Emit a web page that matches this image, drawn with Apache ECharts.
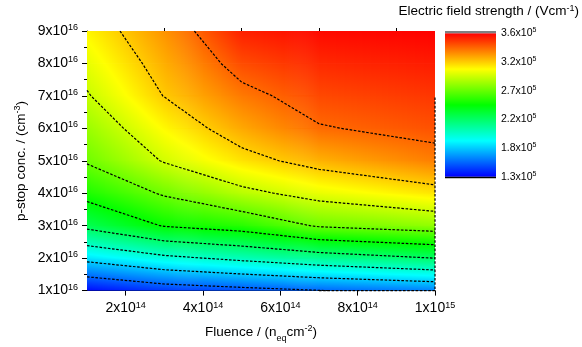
<!DOCTYPE html>
<html><head><meta charset="utf-8">
<script src="https://cdn.jsdelivr.net/npm/echarts@6/dist/echarts.min.js"></script>
<style>html,body{margin:0;padding:0;background:#fff}#c{width:582px;height:347px}</style>
</head><body><div id="c"></div>
<script>
// ---------------- DATA ----------------
// Fluence grid nodes (units of 1e14 n_eq cm^-2)
const fluence = [1, 3, 5, 7, 10];
// p-stop concentration grid nodes (units of 1e16 cm^-3)
const pstop = [1, 2, 3, 4, 5, 6, 7, 8, 9];
// Electric field strength (units of 1e5 V/cm), per fluence column, p-stop from 1e16 to 9e16
const fieldF1  = [1.320, 1.820, 2.276, 2.523, 2.710, 2.810, 2.911, 2.987, 3.060];
const fieldF3  = [1.425, 1.952, 2.471, 2.713, 2.937, 3.051, 3.161, 3.223, 3.285];
const fieldF5  = [1.476, 2.039, 2.546, 2.877, 3.101, 3.237, 3.344, 3.448, 3.550];
const fieldF7  = [1.527, 2.126, 2.711, 2.990, 3.215, 3.377, 3.455, 3.528, 3.600];
const fieldF10 = [1.590, 2.229, 2.789, 3.095, 3.332, 3.435, 3.497, 3.558, 3.620];
// Contour levels (1e5 V/cm)
const contourLevels = [1.532, 1.764, 1.996, 2.228, 2.460, 2.692, 2.924, 3.156, 3.388];
// Dashed boundary contour drawn along the lower/right plot edge in the original (fluence, p-stop)
const boundaryContourX = [7, 10, 10];
const boundaryContourY = [1, 1, 7.0];
// Colour scale range
const scaleMin = 1.30, scaleMax = 3.62;
// Tick labels
const xTickValues = [2, 4, 6, 8, 10];
const xTickText = ['2x10', '4x10', '6x10', '8x10', '1x10'];
const xTickExp = ['14', '14', '14', '14', '15'];
const xMinorValues = [3, 5, 7, 9];
const yTickValues = [1, 2, 3, 4, 5, 6, 7, 8, 9];
const yTickText = ['1x10', '2x10', '3x10', '4x10', '5x10', '6x10', '7x10', '8x10', '9x10'];
const yTickExp = '16';
const cbTickText = ['1.3', '1.8', '2.2', '2.7', '3.2', '3.6'];
const cbTickExp = '5';

// ---------------- HELPERS ----------------
const FONT = '"Liberation Sans", Arial, sans-serif';
const fieldByFluence = [fieldF1, fieldF3, fieldF5, fieldF7, fieldF10];
const val = (i, j) => fieldByFluence[i][j];
const cmap = [[0, [0, 0, 255]], [0.25, [0, 255, 255]], [0.5, [0, 255, 0]], [0.75, [255, 255, 0]], [1, [255, 0, 0]]];
function colorAtF(f) {
  f = Math.max(0, Math.min(1, f));
  for (let k = 0; k < cmap.length - 1; k++) {
    const a = cmap[k], b = cmap[k + 1];
    if (f <= b[0]) {
      const t = (f - a[0]) / (b[0] - a[0]);
      const c = a[1].map((v, m) => Math.round(v + (b[1][m] - v) * t));
      return 'rgb(' + c.join(',') + ')';
    }
  }
  return 'rgb(255,0,0)';
}
const toF = v => (v - scaleMin) / (scaleMax - scaleMin);
function gradStops(v0, v1) {
  const f0 = toF(v0), f1 = toF(v1);
  const stops = [{ offset: 0, color: colorAtF(f0) }];
  const lo = Math.min(f0, f1), hi = Math.max(f0, f1);
  if (hi - lo > 1e-9) {
    cmap.forEach(s => {
      if (s[0] > lo && s[0] < hi) stops.push({ offset: (s[0] - f0) / (f1 - f0), color: colorAtF(s[0]) });
    });
  }
  stops.push({ offset: 1, color: colorAtF(f1) });
  stops.sort((a, b) => a.offset - b.offset);
  return stops;
}

// cells of the data grid
const cells = [];
for (let i = 0; i < fluence.length - 1; i++)
  for (let j = 0; j < pstop.length - 1; j++)
    cells.push([fluence[i], pstop[j], i, j]);

function renderCell(params, api) {
  const i = api.value(2), j = api.value(3);
  const v00 = val(i, j), v10 = val(i + 1, j), v01 = val(i, j + 1), v11 = val(i + 1, j + 1);
  const pBL = api.coord([fluence[i], pstop[j]]);
  const pTR = api.coord([fluence[i + 1], pstop[j + 1]]);
  const xL = pBL[0], xR = pTR[0], yB = pBL[1], yT = pTR[1];
  const n = Math.max(1, Math.ceil(xR - xL));
  const w = (xR - xL) / n;
  const children = [];
  for (let k = 0; k < n; k++) {
    const t = (k + 0.5) / n;
    const vb = v00 + (v10 - v00) * t, vt = v01 + (v11 - v01) * t;
    children.push({
      type: 'rect', silent: true,
      shape: { x: xL + k * w, y: yT - 0.3, width: w + 0.7, height: yB - yT + 0.6 },
      style: { fill: new echarts.graphic.LinearGradient(0, 1, 0, 0, gradStops(vb, vt)) }
    });
  }
  return { type: 'group', children };
}

function contourLines(level) {
  const segs = [];
  for (let i = 0; i < fluence.length - 1; i++) {
    for (let j = 0; j < pstop.length - 1; j++) {
      const c = [[fluence[i], pstop[j], val(i, j)], [fluence[i + 1], pstop[j], val(i + 1, j)],
                 [fluence[i + 1], pstop[j + 1], val(i + 1, j + 1)], [fluence[i], pstop[j + 1], val(i, j + 1)]];
      const keys = ['h' + i + '_' + j, 'v' + (i + 1) + '_' + j, 'h' + i + '_' + (j + 1), 'v' + i + '_' + j];
      const pts = [];
      for (let e = 0; e < 4; e++) {
        const a = c[e], b = c[(e + 1) % 4];
        if ((a[2] < level) !== (b[2] < level)) {
          const t = (level - a[2]) / (b[2] - a[2]);
          pts.push({ k: keys[e], p: [a[0] + (b[0] - a[0]) * t, a[1] + (b[1] - a[1]) * t] });
        }
      }
      for (let q = 0; q + 1 < pts.length; q += 2) segs.push([pts[q], pts[q + 1]]);
    }
  }
  const used = segs.map(() => false);
  const count = {};
  segs.forEach(s => s.forEach(e => { count[e.k] = (count[e.k] || 0) + 1; }));
  const deg = s => Math.min(count[segs[s][0].k], count[segs[s][1].k]);
  const order = segs.map((s, i) => i).sort((a, b) => deg(a) - deg(b));
  function grow(line) {
    for (;;) {
      const last = line[line.length - 1];
      let found = -1;
      for (let s = 0; s < segs.length; s++) {
        if (used[s]) continue;
        if (segs[s][0].k === last.k) { found = s; line.push(segs[s][1]); break; }
        if (segs[s][1].k === last.k) { found = s; line.push(segs[s][0]); break; }
      }
      if (found < 0) break;
      used[found] = true;
    }
  }
  const lines = [];
  for (const s0 of order) {
    if (used[s0]) continue;
    used[s0] = true;
    const line = [segs[s0][0], segs[s0][1]];
    grow(line); line.reverse(); grow(line);
    lines.push(line.map(e => e.p));
  }
  return lines;
}

const dashStyle = { color: '#000', width: 1.2, type: [2.6, 1.6] };
const contourSeries = [];
contourLevels.forEach(L => {
  contourLines(L).forEach(line => {
    contourSeries.push({
      type: 'line', xAxisIndex: 0, yAxisIndex: 0, data: line,
      symbol: 'none', showSymbol: false, silent: true, z: 5, clip: true,
      lineStyle: dashStyle
    });
  });
});
contourSeries.push({
  type: 'line', xAxisIndex: 0, yAxisIndex: 0,
  data: boundaryContourX.map((x, k) => [x, boundaryContourY[k]]),
  symbol: 'none', showSymbol: false, silent: true, z: 5, clip: false,
  lineStyle: dashStyle
});

const tickRich = {
  a: { fontFamily: FONT, fontSize: 14, color: '#000', lineHeight: 16 },
  s: { fontFamily: FONT, fontSize: 9, color: '#000', verticalAlign: 'top' }
};
const cbRich = {
  a: { fontFamily: FONT, fontSize: 10.5, color: '#000', lineHeight: 13 },
  s: { fontFamily: FONT, fontSize: 7, color: '#000', verticalAlign: 'top' }
};
const titleRich = {
  a: { fontFamily: FONT, fontSize: 13.5, color: '#000', lineHeight: 22 },
  sup: { fontFamily: FONT, fontSize: 9, color: '#000', verticalAlign: 'top', height: 16 },
  sub: { fontFamily: FONT, fontSize: 9, color: '#000', verticalAlign: 'bottom' }
};

const chart = echarts.init(document.getElementById('c'), null, { renderer: 'canvas' });
chart.setOption({
  animation: false,
  backgroundColor: '#fff',
  grid: [
    { left: 87, top: 31, right: 147, bottom: 56.4, containLabel: false, outerBoundsMode: 'none' },
    { left: 445, top: 33.3, width: 51, height: 143.4, containLabel: false, outerBoundsMode: 'none' }
  ],
  xAxis: [
    {
      type: 'value', gridIndex: 0, min: 1, max: 10,
      axisLine: { show: true, onZero: false, lineStyle: { color: '#000', width: 1 } },
      axisTick: { show: true, customValues: xTickValues, length: 5, lineStyle: { color: '#000' } },
      axisLabel: {
        customValues: xTickValues, margin: 10,
        formatter: v => { const k = xTickValues.indexOf(v); return k < 0 ? '' : '{a|' + xTickText[k] + '}{s|' + xTickExp[k] + '}'; },
        rich: tickRich
      },
      splitLine: { show: false }
    },
    {
      type: 'value', gridIndex: 0, min: 1, max: 10,
      axisLine: { show: false },
      axisTick: { show: true, customValues: xMinorValues, length: 3, lineStyle: { color: '#000' } },
      axisLabel: { show: false, customValues: xMinorValues },
      splitLine: { show: false }
    },
    { type: 'value', gridIndex: 1, min: 0, max: 1, show: false }
  ],
  yAxis: [
    {
      type: 'value', gridIndex: 0, min: 1, max: 9, interval: 1,
      axisLine: { show: true, onZero: false, lineStyle: { color: '#000', width: 1 } },
      axisTick: { show: true, length: 5, lineStyle: { color: '#000' } },
      minorTick: { show: true, splitNumber: 2, length: 3, lineStyle: { color: '#000' } },
      axisLabel: {
        margin: 9,
        formatter: v => { const k = yTickValues.indexOf(v); return k < 0 ? '' : '{a|' + yTickText[k] + '}{s|' + yTickExp + '}'; },
        rich: tickRich
      },
      splitLine: { show: false }, minorSplitLine: { show: false }
    },
    {
      type: 'value', gridIndex: 1, min: 0, max: 5, interval: 1, position: 'right',
      axisLine: { show: false }, axisTick: { show: false }, splitLine: { show: false },
      axisLabel: {
        margin: 5,
        formatter: v => (v >= 0 && v < cbTickText.length) ? '{a|' + cbTickText[v] + 'x10}{s|' + cbTickExp + '}' : '',
        rich: cbRich
      }
    }
  ],
  series: [
    { type: 'custom', xAxisIndex: 0, yAxisIndex: 0, data: cells, renderItem: renderCell, clip: true, silent: true, z: 1 },
    {
      type: 'custom', xAxisIndex: 2, yAxisIndex: 1, data: [[0.5, 2.5]], silent: true, z: 1,
      renderItem: (params, api) => {
        const pBL = api.coord([0, 0]), pTR = api.coord([1, cbTickText.length - 1]);
        const x = pBL[0], w = pTR[0] - pBL[0], yT = pTR[1], yB = pBL[1];
        return {
          type: 'group', children: [
            { type: 'rect', shape: { x, y: yT, width: w, height: yB - yT },
              style: { fill: new echarts.graphic.LinearGradient(0, 1, 0, 0, cmap.map(s => ({ offset: s[0], color: colorAtF(s[0]) }))) } },
            { type: 'rect', shape: { x, y: yT - 2.3, width: w, height: 2.3 }, style: { fill: '#808080' } },
            { type: 'rect', shape: { x, y: yB, width: w, height: 1.6 }, style: { fill: '#000' } }
          ]
        };
      }
    }
  ].concat(contourSeries),
  graphic: [
    { type: 'text', x: 579, y: 11.5, silent: true,
      style: { text: '{a|Electric field strength / (Vcm}{sup|-1}{a|)}', rich: titleRich, align: 'right', verticalAlign: 'middle' } },
    { type: 'text', x: 261, y: 332, silent: true,
      style: { text: '{a|Fluence / (n}{sub|eq}{a|cm}{sup|-2}{a|)}', rich: titleRich, align: 'center', verticalAlign: 'middle' } },
    { type: 'text', x: 21, y: 161, rotation: Math.PI / 2, silent: true,
      style: { text: '{a|p-stop conc. / (cm}{sup|-3}{a|)}', rich: titleRich, align: 'center', verticalAlign: 'middle' } }
  ]
});
</script></body></html>
